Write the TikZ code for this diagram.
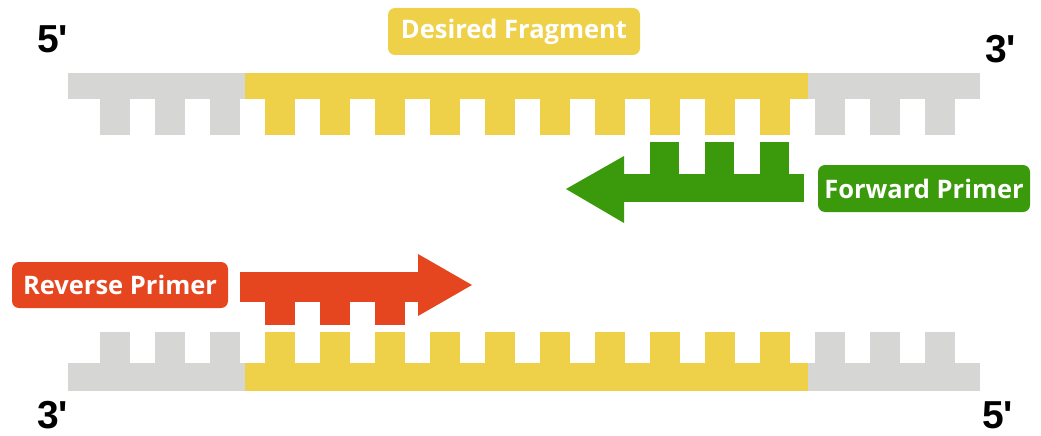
\documentclass[tikz,border=0pt]{standalone}
\usepackage{fontspec}
\setmainfont{Liberation Sans}
\newfontfamily\tagfont{Open Sans}
\definecolor{strandgray}{HTML}{D6D6D4}
\definecolor{fragyellow}{HTML}{EFD149}
\definecolor{fwdgreen}{HTML}{3A9A0B}
\definecolor{revred}{HTML}{E5461F}
\begin{document}
\begin{tikzpicture}[x=1pt,y=-1pt,
  tag/.style={fill=#1, rounded corners=7pt, text=white, inner sep=0pt,
    font=\tagfont\bfseries\fontsize{25.5}{25.5}\selectfont},
  endmark/.style={inner sep=0pt, font=\bfseries\fontsize{39}{39}\selectfont}]
\useasboundingbox (0,0) rectangle (1041,436);

% upper strand: backbone
\fill[strandgray] (68,73) rectangle (245,99);
\fill[fragyellow] (245,73) rectangle (808,99);
\fill[strandgray] (808,73) rectangle (980,99);
% upper strand: bases
\foreach \x in {100,155,210,815,870,925}
  \fill[strandgray] (\x,99) rectangle (\x+30,135);
\foreach \x in {265,320,...,760}
  \fill[fragyellow] (\x,99) rectangle (\x+30,135);

% lower strand: backbone
\fill[strandgray] (68,363) rectangle (245,391);
\fill[fragyellow] (245,363) rectangle (808,391);
\fill[strandgray] (808,363) rectangle (980,391);
% lower strand: bases
\foreach \x in {100,155,210,815,870,925}
  \fill[strandgray] (\x,332) rectangle (\x+30,363);
\foreach \x in {265,320,...,760}
  \fill[fragyellow] (\x,332) rectangle (\x+30,363);

% forward primer, pointing left
\foreach \x in {650,705,760}
  \fill[fwdgreen] (\x,142) rectangle (\x+29,175);
\fill[fwdgreen] (623,174) rectangle (804,202);
\fill[fwdgreen] (624,156) -- (566,189) -- (624,223) -- cycle;

% reverse primer, pointing right
\fill[revred] (240,272) rectangle (419,302);
\fill[revred] (418,254) -- (472,285) -- (418,316) -- cycle;
\foreach \x in {265,320,375}
  \fill[revred] (\x,301) rectangle (\x+30,325);

% labels
\node[tag=fragyellow, minimum width=252pt, minimum height=47pt] (frag) at (514,31.5) {Desired Fragment};
\node[tag=fwdgreen, minimum width=212pt, minimum height=47pt] (fwd) at (924,188.5) {Forward Primer};
\node[tag=revred, minimum width=216pt, minimum height=46pt] (rev) at (120,285) {Reverse Primer};

% strand ends
\node[endmark, anchor=north west] (tl) at (37,25) {5\textquotesingle};
\node[endmark, anchor=north west] (tr) at (985,35) {3\textquotesingle};
\node[endmark, anchor=north west] (bl) at (37,401) {3\textquotesingle};
\node[endmark, anchor=north west] (br) at (982,401) {5\textquotesingle};
\end{tikzpicture}
\end{document}
